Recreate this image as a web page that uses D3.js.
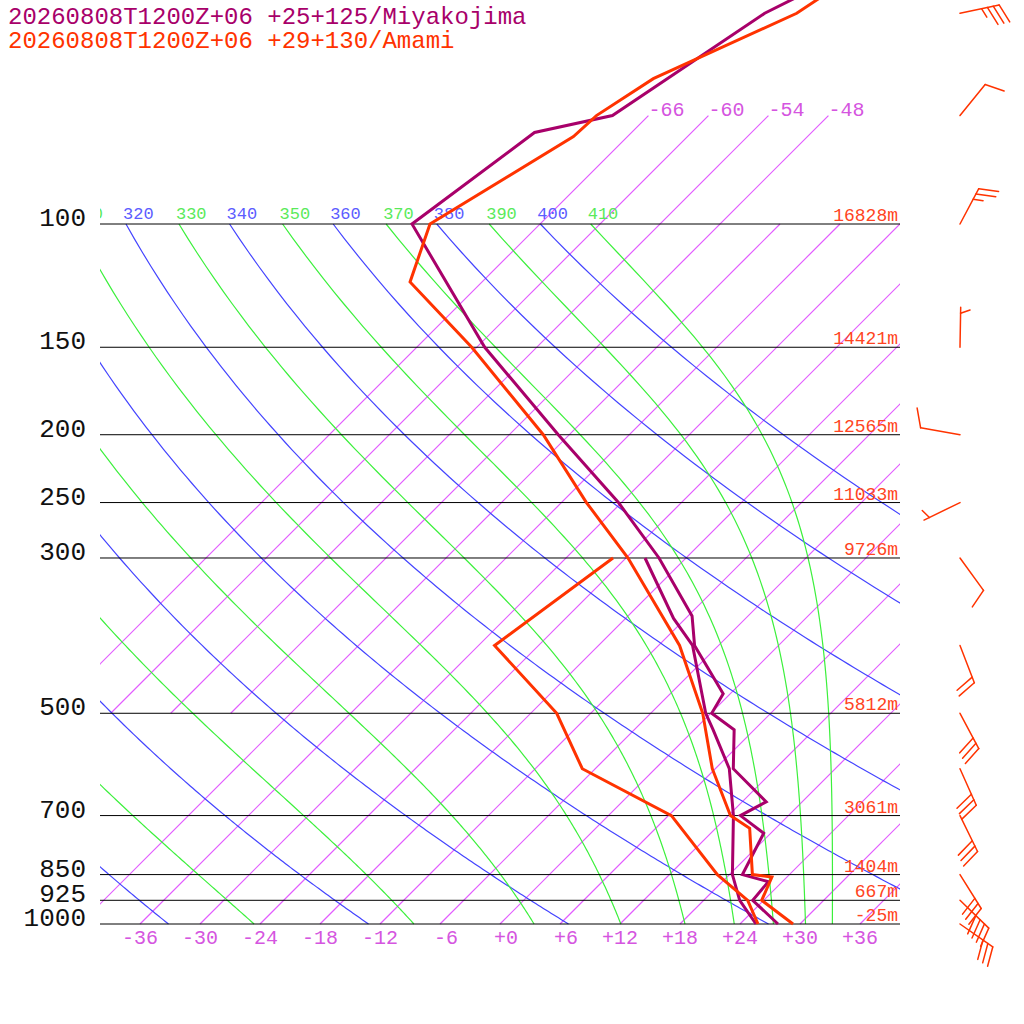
<!DOCTYPE html>
<html>
<head>
<meta charset="utf-8">
<script src="https://cdn.jsdelivr.net/npm/d3@7"></script>
<style>
html, body { margin: 0; padding: 0; background: #fff; }
svg { display: block; font-family: "Liberation Mono", "DejaVu Sans Mono", monospace; }
</style>
</head>
<body>
<svg id="chart" width="1024" height="1024"></svg>
<script>
// --- diagram grid values ---
const isobars = [100, 150, 200, 250, 300, 500, 700, 850, 925, 1000];
const heightLabels = ["16828m", "14421m", "12565m", "11033m", "9726m", "5812m", "3061m", "1404m", "667m", "-25m"];
const isothermsLow = [-42, -36, -30, -24, -18, -12, -6, 0, 6, 12, 18, 24, 30, 36];
const isothermsHigh = [-66, -60, -54, -48];
const tempTicks = [-36, -30, -24, -18, -12, -6, 0, 6, 12, 18, 24, 30, 36];
const thetaDry = [240, 260, 280, 300, 320, 340, 360, 380, 400];
const thetaMoist = [250, 270, 290, 310, 330, 350, 370, 390, 410];

// --- Miyakojima sounding ---
const miyaP = [30, 50, 70, 74, 100, 150, 200, 250, 300, 363, 400, 469, 500, 528, 600, 669, 700, 742, 850, 870, 925, 1000];
const miyaT = [-49.2, -64.6, -69.6, -75.7, -78.8, -59.2, -43.1, -30.3, -20.7, -11.6, -8.4, -0.7, 0.1, 4.0, 7.8, 14.4, 13.2, 17.3, 19.3, 22.6, 22.9, 27.8];
const miyaTdP = [300, 366, 400, 468, 500, 528, 600, 700, 850, 925, 1000];
const miyaTd = [-22.1, -13.2, -8.6, -2.9, -0.5, 1.9, 7.4, 12.5, 18.3, 21.6, 25.6];

// --- Amami sounding ---
const amamiP = [30, 50, 62, 70, 75, 100, 121, 150, 200, 250, 300, 400, 500, 600, 700, 730, 850, 857, 925, 1000];
const amamiT = [-53.6, -61.4, -69.2, -71.2, -71.4, -77.0, -73.2, -60.5, -44.6, -33.5, -23.8, -9.9, -0.8, 5.7, 12.2, 15.4, 20.3, 22.5, 23.8, 29.3];
const amamiTdP = [300, 400, 500, 600, 700, 850, 925, 1000];
const amamiTd = [-25.3, -28.4, -15.4, -7.3, 6.3, 16.8, 22.4, 25.8];

// --- Amami winds ---
const windP = [50, 70, 100, 150, 200, 250, 300, 400, 500, 600, 700, 850, 925, 1000];
const windDir = [78, 39, 28, 1, 280, 244, 144, 159, 152, 156, 154, 148, 134, 125];
const windKt = [35, 10, 25, 5, 10, 5, 10, 20, 30, 30, 30, 30, 40, 30];

const C = {
  miya: "#a8006a", amami: "#ff3300", iso: "#e25cff", isoLab: "#d555e0",
  dry: "#4444ff", dryLab: "#5c5cff", moist: "#3cf03c", moistLab: "#5aea5a"
};

const svg = d3.select("#chart");
const y = d3.scaleLog().domain([1000, 100]).range([924, 224]);
const x0 = d3.scaleLinear().domain([-40, 40]).range([100, 900]);
const sx = (t, p) => x0(t) + (y(1000) - y(p));

svg.append("defs").append("clipPath").attr("id", "plot")
  .append("rect").attr("x", 100).attr("y", -20).attr("width", 800).attr("height", 960);

const grid = svg.append("g").attr("clip-path", "url(#plot)").attr("fill", "none");
const line = d3.line().x(d => sx(d.t, d.p)).y(d => y(d.p));

// isotherms
const isoG = grid.append("g");
isothermsLow.forEach(t => {
  isoG.append("line")
    .attr("x1", sx(t, 1000)).attr("y1", y(1000)).attr("x2", sx(t, 100)).attr("y2", y(100))
    .attr("stroke", C.iso).attr("stroke-width", 1.2);
});
isothermsHigh.forEach(t => {
  isoG.append("line")
    .attr("x1", sx(t, 500)).attr("y1", y(500)).attr("x2", sx(t, 70)).attr("y2", y(70))
    .attr("stroke", C.iso).attr("stroke-width", 1.2);
  svg.append("text").attr("x", sx(t, 70)).attr("y", y(70))
    .style("fill", C.isoLab).style("font-size", "20px").text(t);
});

// dry adiabats
const pSteps = d3.range(1000, 99, -5);
thetaDry.forEach(th => {
  const pts = pSteps.map(p => ({p: p, t: th * Math.pow(p / 1000, 0.2857) - 273.15}));
  grid.append("path").attr("d", line(pts))
    .style("fill", "none").style("stroke", C.dry).style("stroke-width", "1.2px");
  const lx = sx(pts[pts.length - 1].t, 100) - 3;
  if (lx > 60) {
    grid.append("text").attr("x", lx).attr("y", 219)
      .style("fill", C.dryLab).style("font-size", "17px").text(th);
  }
});

// moist (pseudo) adiabats, labelled by theta-e
function thetaE(tc, p) {
  const tk = tc + 273.15;
  const es = 6.112 * Math.exp(17.67 * tc / (tc + 243.5));
  const r = 622 * es / (p - es);
  return tk * Math.pow(1000 / p, 0.2854 * (1 - 0.00028 * r)) *
    Math.exp((3.376 / tk - 0.00254) * r * (1 + 0.00081 * r));
}
function moistT(te, p) {
  let lo = -150, hi = 40;
  for (let i = 0; i < 50; i++) {
    const mid = (lo + hi) / 2;
    if (thetaE(mid, p) > te) hi = mid; else lo = mid;
  }
  return (lo + hi) / 2;
}
thetaMoist.forEach(te => {
  const pts = pSteps.map(p => ({p: p, t: moistT(te, p)}));
  grid.append("path").attr("d", line(pts))
    .style("fill", "none").style("stroke", C.moist).style("stroke-width", "1.2px");
  const lx = sx(pts[pts.length - 1].t, 100) - 3;
  if (lx > 60) {
    grid.append("text").attr("x", lx).attr("y", 219)
      .style("fill", C.moistLab).style("font-size", "17px").text(te);
  }
});

// isobars + labels
isobars.forEach((p, i) => {
  svg.append("line").attr("x1", 100).attr("x2", 900).attr("y1", y(p)).attr("y2", y(p))
    .style("stroke", "#000").style("stroke-width", "1px");
  svg.append("text").attr("x", 86).attr("y", y(p) + 2).attr("text-anchor", "end")
    .style("fill", "#111").style("font-size", "26px").text(p);
  svg.append("text").attr("x", 898).attr("y", y(p) - 3).attr("text-anchor", "end")
    .style("fill", "#ff4422").style("font-size", "18px").text(heightLabels[i]);
});

// temperature ticks at the bottom
tempTicks.forEach(t => {
  const lab = (t >= 0 ? "+" : "-") + Math.abs(t);
  svg.append("text").attr("x", x0(t) + 18).attr("y", 944).attr("text-anchor", "end")
    .style("fill", C.isoLab).style("font-size", "20px").text(lab);
});

// soundings
const profile = (ps, ts) => ps.map((p, i) => ({p: p, t: ts[i]}));
[[miyaP, miyaT, C.miya], [miyaTdP, miyaTd, C.miya],
 [amamiP, amamiT, C.amami], [amamiTdP, amamiTd, C.amami]].forEach(([ps, ts, col]) => {
  svg.append("path").attr("d", line(profile(ps, ts)))
    .style("fill", "none").style("stroke", col).style("stroke-width", "3px");
});

// wind barbs (knots), staff points toward the wind source
const barbs = svg.append("g").style("stroke", C.amami).style("stroke-width", "1.5px")
  .style("fill", "none").style("stroke-linecap", "round");
windP.forEach((p, i) => {
  const bx = 960, by = y(p);
  const a = windDir[i] * Math.PI / 180;
  const ux = Math.sin(a), uy = -Math.cos(a);
  const px = -uy, py = ux;
  const ca = Math.cos(70 * Math.PI / 180), sa = Math.sin(70 * Math.PI / 180);
  const vx = ca * ux + sa * px, vy = ca * uy + sa * py;
  const tx = bx + 40 * ux, ty = by + 40 * uy;
  barbs.append("line").attr("x1", bx).attr("y1", by).attr("x2", tx).attr("y2", ty);
  const kt = Math.round(windKt[i] / 5) * 5;
  const full = Math.floor(kt / 10), half = (kt % 10) >= 5 ? 1 : 0;
  let pos = (full === 0 && half) ? 1 : 0;
  const ticks = [];
  for (let k = 0; k < full; k++) ticks.push(20);
  if (half) ticks.push(10);
  ticks.forEach(len => {
    const bx0 = tx - pos * 6 * ux, by0 = ty - pos * 6 * uy;
    barbs.append("line").attr("x1", bx0).attr("y1", by0)
      .attr("x2", bx0 + len * vx).attr("y2", by0 + len * vy);
    pos++;
  });
});

// titles
svg.append("text").attr("x", 8).attr("y", 24).style("fill", C.miya)
  .style("font-size", "24px").text("20260808T1200Z+06 +25+125/Miyakojima");
svg.append("text").attr("x", 8).attr("y", 48).style("fill", C.amami)
  .style("font-size", "24px").text("20260808T1200Z+06 +29+130/Amami");
</script>
</body>
</html>
